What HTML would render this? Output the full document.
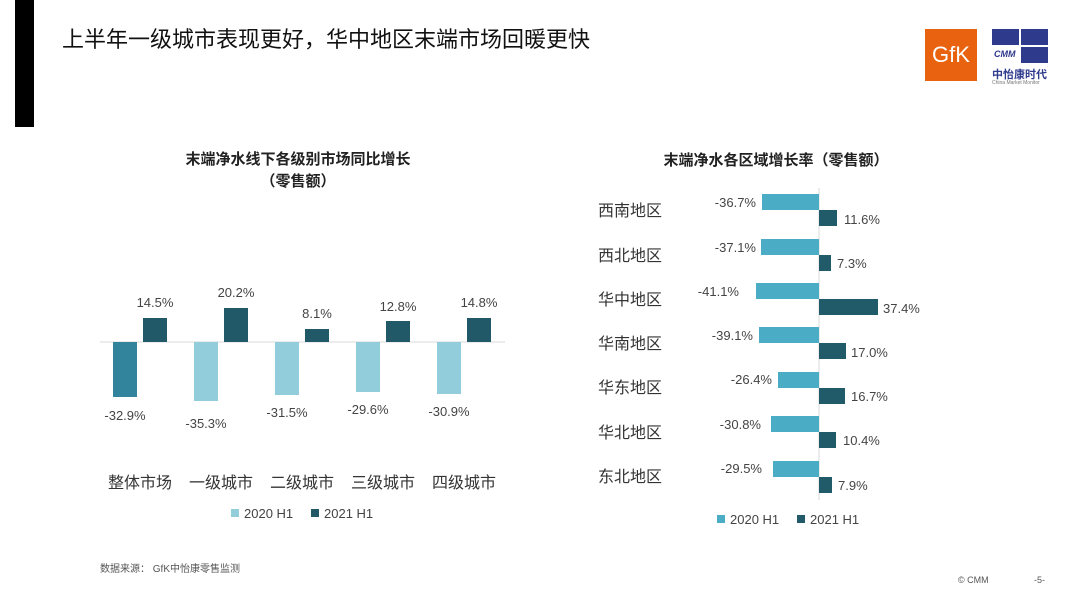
<!DOCTYPE html>
<html><head><meta charset="utf-8"><style>
body{margin:0;width:1080px;height:603px;background:#fff;position:relative;overflow:hidden;font-family:"Liberation Sans","Noto Sans CJK SC",sans-serif;}
.a{position:absolute;white-space:nowrap;}
</style></head><body>
<div class="a" style="left:15px;top:0;width:19px;height:127px;background:#000"></div>
<div class="a" style="left:62px;top:22px;font-size:22px;color:#111">上半年一级城市表现更好，华中地区末端市场回暖更快</div>
<div class="a" style="left:925px;top:29px;width:52px;height:52px;background:#e8620f;color:#fff;font-size:22px;line-height:52px;text-align:center">GfK</div>
<div class="a" style="left:992px;top:29px;width:56px;height:34px;background:#fff">
 <div class="a" style="left:0;top:0;width:27px;height:16px;background:#2e3a8c"></div>
 <div class="a" style="left:29px;top:0;width:27px;height:16px;background:#2e3a8c"></div>
 <div class="a" style="left:29px;top:18px;width:27px;height:16px;background:#2e3a8c"></div>
 <div class="a" style="left:2px;top:20px;font-size:9px;color:#2e3a8c;font-style:italic;font-weight:bold">CMM</div>
</div>
<div class="a" style="left:992px;top:66px;font-size:11px;color:#2e3a8c;font-weight:bold">中怡康时代</div>
<div class="a" style="left:992px;top:80px;font-size:5px;color:#777">China Market Monitor</div>

<div class="a" style="left:0;width:596px;top:149px;text-align:center;font-size:15px;font-weight:bold;color:#222;line-height:22px">末端净水线下各级别市场同比增长<br>（零售额）</div>
<svg class="a" style="left:0;top:0" width="1080" height="603" font-family="Liberation Sans, Noto Sans CJK SC, sans-serif" fill="#444">
<line x1="100" y1="342" x2="505" y2="342" stroke="#d9d9d9"/>
<g font-size="13" text-anchor="middle">
<rect x="113" y="342" width="24" height="55" fill="#31849b"/><rect x="143" y="318" width="24" height="24" fill="#215968"/>
<text x="125" y="420">-32.9%</text><text x="155" y="307">14.5%</text>
<rect x="194" y="342" width="24" height="59" fill="#92cddc"/><rect x="224" y="308" width="24" height="34" fill="#215968"/>
<text x="206" y="428">-35.3%</text><text x="236" y="297">20.2%</text>
<rect x="275" y="342" width="24" height="53" fill="#92cddc"/><rect x="305" y="329" width="24" height="13" fill="#215968"/>
<text x="287" y="417">-31.5%</text><text x="317" y="318">8.1%</text>
<rect x="356" y="342" width="24" height="50" fill="#92cddc"/><rect x="386" y="321" width="24" height="21" fill="#215968"/>
<text x="368" y="414">-29.6%</text><text x="398" y="311">12.8%</text>
<rect x="437" y="342" width="24" height="52" fill="#92cddc"/><rect x="467" y="318" width="24" height="24" fill="#215968"/>
<text x="449" y="416">-30.9%</text><text x="479" y="307">14.8%</text>
</g>
<g font-size="16" text-anchor="middle" fill="#333">
<text x="140" y="488">整体市场</text><text x="221" y="488">一级城市</text><text x="302" y="488">二级城市</text><text x="383" y="488">三级城市</text><text x="464" y="488">四级城市</text>
</g>
<rect x="231" y="509" width="8" height="8" fill="#92cddc"/><text x="244" y="518" font-size="13">2020 H1</text>
<rect x="311" y="509" width="8" height="8" fill="#215968"/><text x="324" y="518" font-size="13">2021 H1</text>

<line x1="819" y1="188" x2="819" y2="500" stroke="#d9d9d9"/>
<g font-size="13">
<g text-anchor="end"><text x="756" y="207">-36.7%</text><text x="756" y="252">-37.1%</text><text x="739" y="296">-41.1%</text><text x="753" y="340">-39.1%</text><text x="772" y="384">-26.4%</text><text x="761" y="429">-30.8%</text><text x="762" y="473">-29.5%</text></g>
<text x="844" y="224">11.6%</text><text x="837" y="268">7.3%</text><text x="883" y="313">37.4%</text><text x="851" y="357">17.0%</text><text x="851" y="401">16.7%</text><text x="843" y="445">10.4%</text><text x="838" y="490">7.9%</text>
</g>
<g fill="#4bacc6">
<rect x="762" y="194" width="57" height="16"/><rect x="761" y="239" width="58" height="16"/><rect x="756" y="283" width="63" height="16"/><rect x="759" y="327" width="60" height="16"/><rect x="778" y="372" width="41" height="16"/><rect x="771" y="416" width="48" height="16"/><rect x="773" y="461" width="46" height="16"/>
</g>
<g fill="#215a68">
<rect x="819" y="210" width="18" height="16"/><rect x="819" y="255" width="12" height="16"/><rect x="819" y="299" width="59" height="16"/><rect x="819" y="343" width="27" height="16"/><rect x="819" y="388" width="26" height="16"/><rect x="819" y="432" width="17" height="16"/><rect x="819" y="477" width="13" height="16"/>
</g>
<g font-size="16" fill="#333">
<text x="598" y="216">西南地区</text><text x="598" y="261">西北地区</text><text x="598" y="305">华中地区</text><text x="598" y="349">华南地区</text><text x="598" y="393">华东地区</text><text x="598" y="438">华北地区</text><text x="598" y="482">东北地区</text>
</g>
<rect x="717" y="515" width="8" height="8" fill="#4bacc6"/><text x="730" y="524" font-size="13">2020 H1</text>
<rect x="797" y="515" width="8" height="8" fill="#215a68"/><text x="810" y="524" font-size="13">2021 H1</text>
<text x="100" y="572" font-size="10" fill="#555">数据来源：  GfK中怡康零售监测</text>
<text x="958" y="583" font-size="9" fill="#555">© CMM</text>
<text x="1034" y="583" font-size="9" fill="#555">-5-</text>
</svg>
<div class="a" style="left:596px;width:360px;top:149px;text-align:center;font-size:15px;font-weight:bold;color:#222">末端净水各区域增长率（零售额）</div>
</body></html>
